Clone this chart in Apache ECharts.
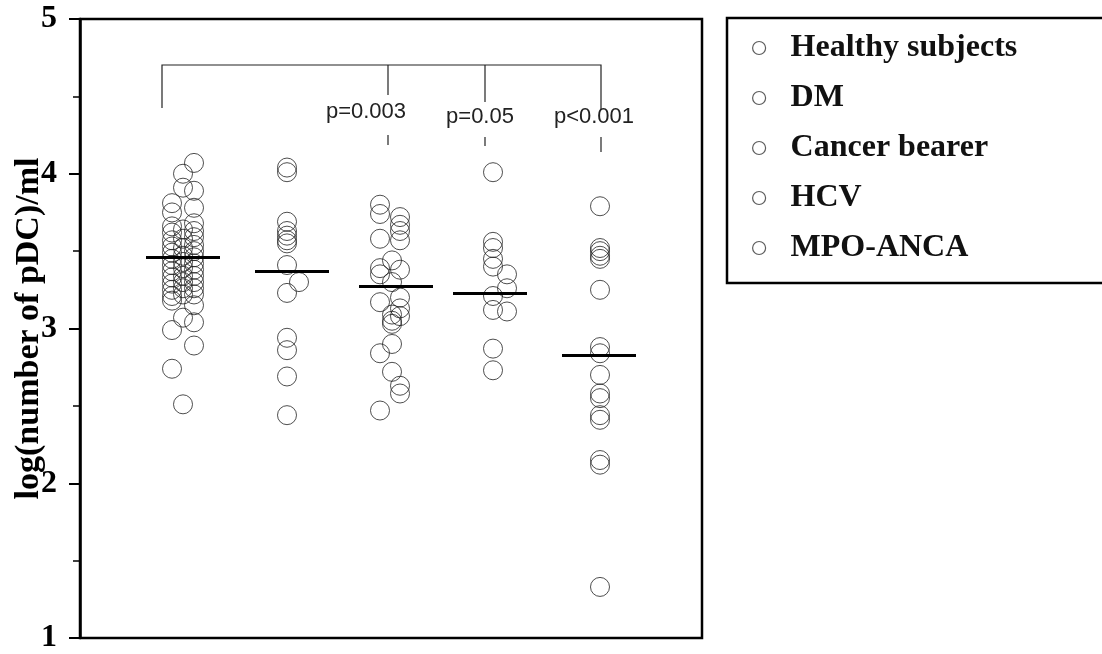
<!DOCTYPE html>
<html>
<head>
<meta charset="utf-8">
<script src="https://cdn.jsdelivr.net/npm/echarts@6/dist/echarts.min.js"></script>
<style>
  html, body { margin: 0; padding: 0; background: #fff; }
  #chart { width: 1102px; height: 654px; }
</style>
</head>
<body>
<div id="chart"></div>
<script>
// group names (legend order)
const groups = ["Healthy subjects", "DM", "Cancer bearer", "HCV", "MPO-ANCA"];

// [x position, log(number of pDC)/ml]
const healthy = [
  [92, 3.81], [92, 3.75], [92, 3.66], [92, 3.62], [92, 3.57], [92, 3.53], [92, 3.49],
  [92, 3.45], [92, 3.41], [92, 3.37], [92, 3.33], [92, 3.29], [92, 3.25], [92, 3.21],
  [92, 3.18], [92, 2.99], [92, 2.74],
  [103, 4.00], [103, 3.91], [103, 3.64], [103, 3.58], [103, 3.52], [103, 3.47], [103, 3.43],
  [103, 3.39], [103, 3.34], [103, 3.30], [103, 3.26], [103, 3.22], [103, 3.07], [103, 2.51],
  [114, 4.07], [114, 3.89], [114, 3.78], [114, 3.68], [114, 3.63], [114, 3.59], [114, 3.54],
  [114, 3.50], [114, 3.46], [114, 3.42], [114, 3.38], [114, 3.34], [114, 3.30], [114, 3.26],
  [114, 3.22], [114, 3.15], [114, 3.04], [114, 2.89]
];
const dm = [
  [207, 4.04], [207, 4.01], [207, 3.69], [207, 3.63], [207, 3.60], [207, 3.57], [207, 3.55],
  [207, 3.41], [219, 3.30], [207, 3.23], [207, 2.94], [207, 2.86], [207, 2.69], [207, 2.44]
];
const cancer = [
  [300, 3.80], [300, 3.74], [320, 3.72], [320, 3.67], [320, 3.63], [300, 3.58], [320, 3.57],
  [312, 3.44], [300, 3.39], [320, 3.38], [300, 3.35], [312, 3.30], [320, 3.20], [300, 3.17],
  [320, 3.13], [320, 3.08], [312, 3.09], [312, 3.05], [312, 3.03], [312, 2.90], [300, 2.84],
  [312, 2.72], [320, 2.63], [320, 2.58], [300, 2.47]
];
const hcv = [
  [413, 4.01], [413, 3.56], [413, 3.52], [413, 3.45], [413, 3.40], [427, 3.35], [427, 3.26],
  [413, 3.21], [413, 3.12], [427, 3.11], [413, 2.87], [413, 2.73]
];
const mpo = [
  [520, 3.79], [520, 3.52], [520, 3.50], [520, 3.47], [520, 3.45], [520, 3.25], [520, 2.88],
  [520, 2.84], [520, 2.70], [520, 2.58], [520, 2.55], [520, 2.44], [520, 2.41], [520, 2.15],
  [520, 2.12], [520, 1.33]
];
const groupPoints = [healthy, dm, cancer, hcv, mpo];

// median bars
const groupCenters = [103, 212, 316, 410, 519];
const medians = [3.46, 3.37, 3.27, 3.23, 2.83];

// y axis ticks
const yMin = 1, yMax = 5, yStep = 1;

const serif = "Liberation Serif";
const sans = "Liberation Sans";
const halfBar = 37;

const chart = echarts.init(document.getElementById("chart"));

const series = groups.map(function (name, i) {
  return {
    name: name,
    type: "scatter",
    data: groupPoints[i],
    symbol: "circle",
    symbolSize: 19,
    itemStyle: { color: "rgba(0,0,0,0)", borderColor: "#222", borderWidth: 1 },
    emphasis: { disabled: true },
    markLine: {
      silent: true,
      symbol: "none",
      label: { show: false },
      lineStyle: { color: "#000", width: 3, type: "solid" },
      data: [[
        { coord: [groupCenters[i] - halfBar, medians[i]] },
        { coord: [groupCenters[i] + halfBar, medians[i]] }
      ]]
    }
  };
});

// bracket + p-values (annotation, pixel positions)
const thin = { stroke: "#222", lineWidth: 1.2, fill: null };
const pText = function (txt, x, y) {
  return {
    type: "text", x: x, y: y,
    style: { text: txt, fill: "#222", font: "22px " + sans, align: "center", verticalAlign: "middle" }
  };
};

const option = {
  animation: false,
  backgroundColor: "#fff",
  grid: {
    left: 80, top: 19, width: 622, height: 619,
    outerBoundsMode: "none",
    show: true, borderColor: "#000", borderWidth: 2.5, backgroundColor: "transparent"
  },
  xAxis: {
    type: "value", min: 0, max: 622,
    axisLine: { show: false }, axisTick: { show: false },
    axisLabel: { show: false }, splitLine: { show: false }
  },
  yAxis: {
    type: "value", min: yMin, max: yMax, interval: yStep,
    axisLine: { show: true, lineStyle: { color: "#000", width: 2.5 } },
    axisTick: { show: true, inside: false, length: 11, lineStyle: { color: "#000", width: 2 } },
    minorTick: { show: true, splitNumber: 2, length: 7, lineStyle: { color: "#000", width: 1.5 } },
    splitLine: { show: false },
    axisLabel: { fontFamily: serif, fontWeight: "bold", fontSize: 32, color: "#000", margin: 23 },
    name: "log(number of pDC)/ml",
    nameLocation: "middle",
    nameGap: 34,
    nameMoveOverlap: false,
    nameTextStyle: { fontFamily: serif, fontWeight: "bold", fontSize: 34, color: "#000" }
  },
  legend: {
    data: groups,
    orient: "vertical",
    left: 752, top: 31,
    padding: 0,
    itemWidth: 13, itemHeight: 13, itemGap: 16,
    icon: "circle",
    selectedMode: false,
    itemStyle: { color: "rgba(0,0,0,0)", borderColor: "#333", borderWidth: 1.2 },
    textStyle: { fontFamily: serif, fontWeight: "bold", fontSize: 32, color: "#111", lineHeight: 34, padding: [0, 0, 0, 20] }
  },
  graphic: [
    { type: "rect", shape: { x: 727, y: 18, width: 400, height: 265 }, style: { stroke: "#000", lineWidth: 2.5, fill: null } },
    { type: "polyline", shape: { points: [[162, 108], [162, 65], [601, 65], [601, 110]] }, style: thin },
    { type: "line", shape: { x1: 388, y1: 65, x2: 388, y2: 95 }, style: thin },
    { type: "line", shape: { x1: 485, y1: 65, x2: 485, y2: 102 }, style: thin },
    { type: "line", shape: { x1: 388, y1: 135, x2: 388, y2: 145 }, style: thin },
    { type: "line", shape: { x1: 485, y1: 137, x2: 485, y2: 146 }, style: thin },
    { type: "line", shape: { x1: 601, y1: 137, x2: 601, y2: 152 }, style: thin },
    pText("p=0.003", 366, 112),
    pText("p=0.05", 480, 117),
    pText("p<0.001", 594, 117)
  ],
  series: series
};

chart.setOption(option);
</script>
</body>
</html>
